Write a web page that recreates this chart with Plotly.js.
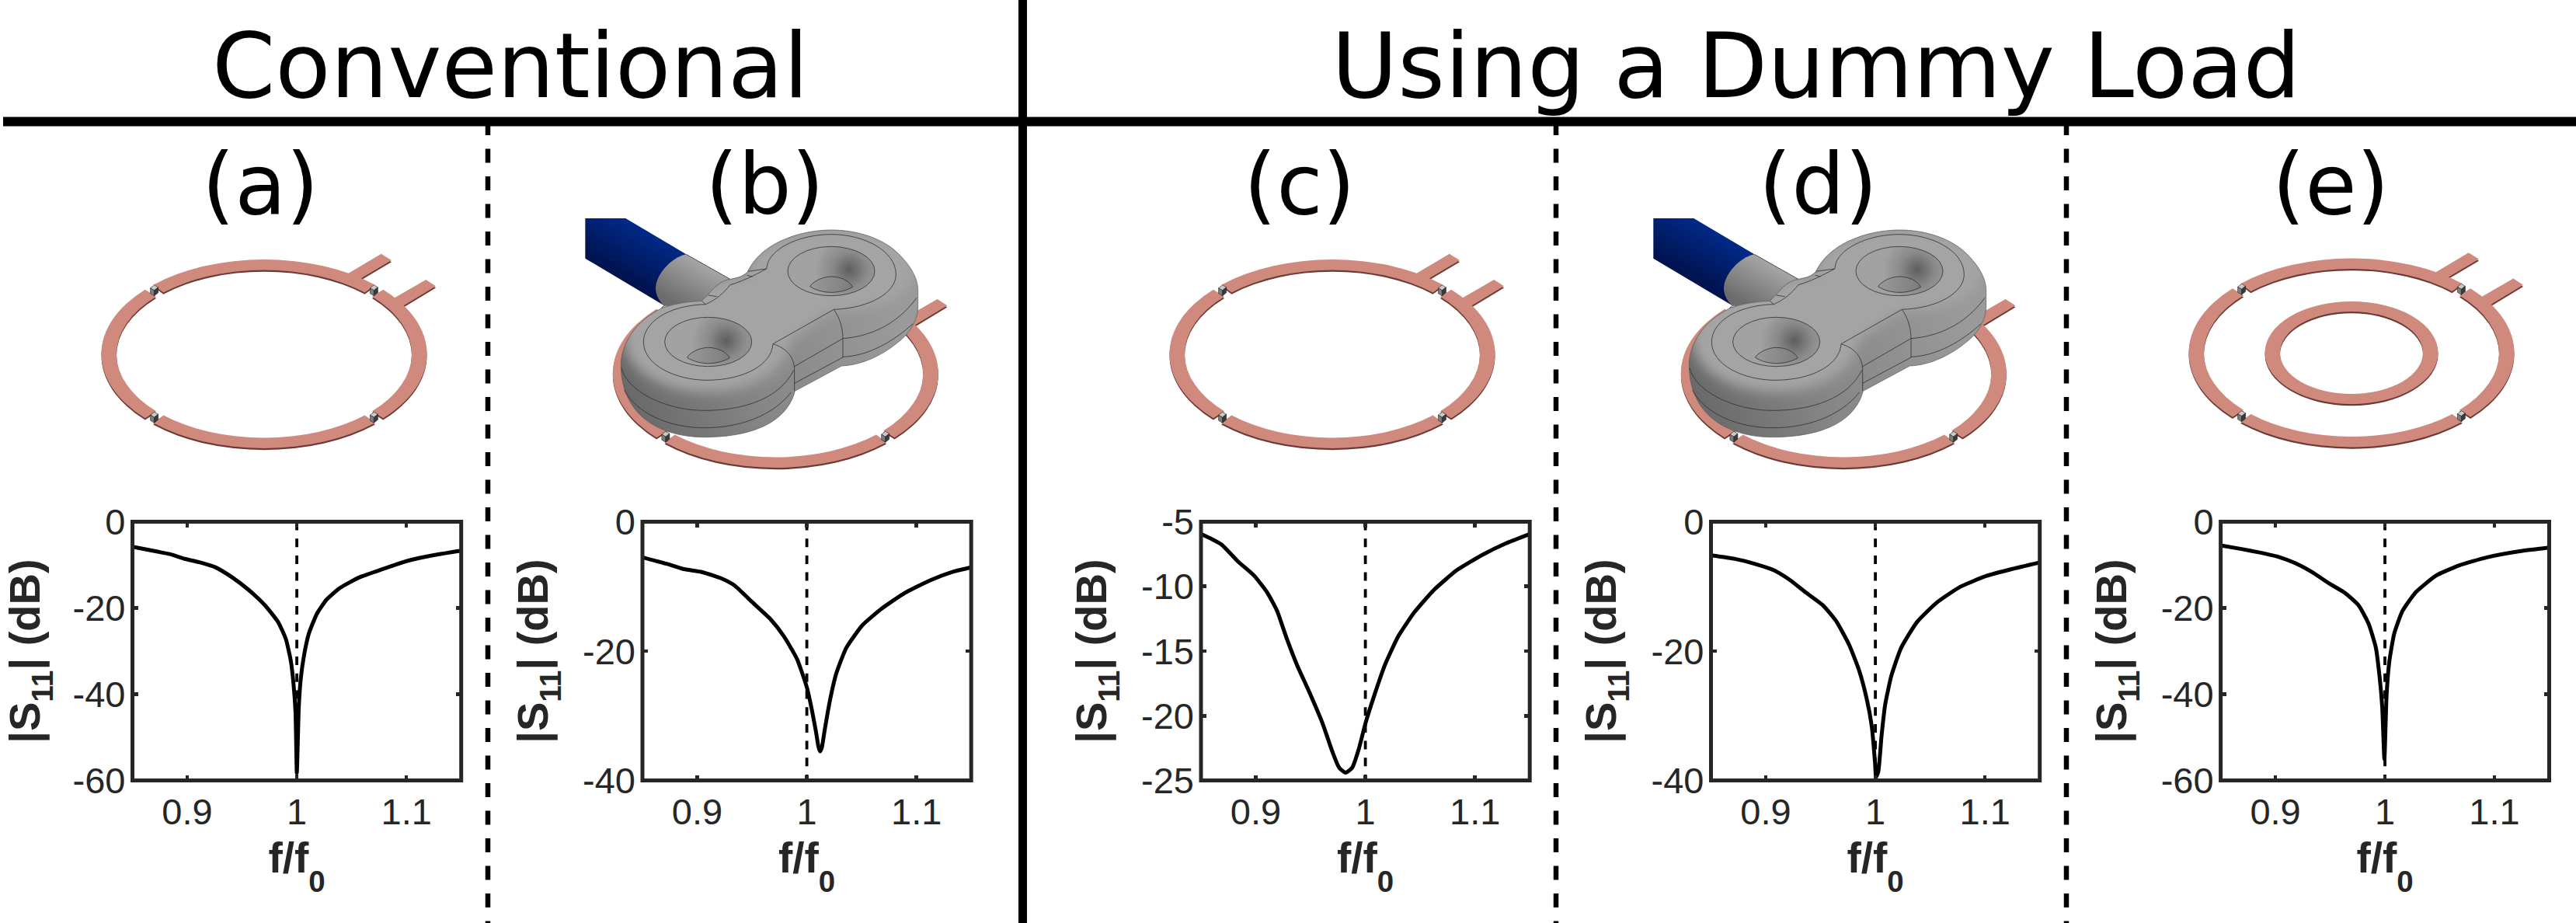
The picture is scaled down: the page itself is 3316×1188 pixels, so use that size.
<!DOCTYPE html>
<html><head><meta charset="utf-8">
<script src="https://cdn.plot.ly/plotly-3.0.1.min.js"></script>
<style>html,body{margin:0;padding:0;background:#fff}</style></head>
<body><div id="chart"></div>
<script>
const W = 3316, H = 1188;

// ---- Data ----
const sections = ["Conventional", "Using a Dummy Load"];
const panelLabels = ["(a)", "(b)", "(c)", "(d)", "(e)"];
const xTickVals = [0.9, 1, 1.1];
const xTickText = ["0.9", "1", "1.1"];

const yTicksA = [0, -20, -40, -60];
const yTicksB = [0, -20, -40];
const yTicksC = [-5, -10, -15, -20, -25];
const yTicksD = [0, -20, -40];
const yTicksE = [0, -20, -40, -60];

const fA = [0.85,0.872,0.884,0.8977,0.911,0.926,0.941,0.956,0.971,0.983,0.99,0.9946,0.997,0.9988,1.0,1.0018,1.0036,1.0065,1.011,1.0184,1.027,1.039,1.057,1.078,1.102,1.126,1.15];
const sA = [-5.8,-6.9,-7.5,-8.6,-9.4,-10.6,-12.9,-15.8,-19.4,-23.3,-27.2,-32.4,-37.7,-44.2,-58.2,-42.9,-36.4,-31.1,-25.9,-21.3,-18.1,-15.4,-12.9,-11.0,-9.0,-7.7,-6.7];

const fB = [0.85,0.872,0.887,0.9046,0.9225,0.9344,0.9493,0.967,0.979,0.991,1.0,1.0045,1.0084,1.0105,1.012,1.0137,1.0164,1.021,1.027,1.036,1.0507,1.0686,1.0895,1.1133,1.134,1.15];
const sB = [-5.5,-6.5,-7.3,-7.8,-8.8,-9.9,-12.3,-15.1,-17.7,-21.2,-25.6,-29.0,-32.5,-34.7,-35.5,-34.9,-32.1,-27.7,-23.4,-19.5,-16,-13.4,-11,-9,-7.7,-7.05];

const fC = [0.85,0.86,0.869,0.884,0.8986,0.9105,0.9195,0.928,0.9374,0.949,0.961,0.97,0.976,0.982,0.988,0.994,1.0,1.009,1.018,1.03,1.0447,1.0626,1.0835,1.107,1.128,1.15];
const sC = [-5.95,-6.35,-6.78,-8.09,-9.18,-10.48,-11.9,-13.97,-16.03,-18.2,-20.6,-22.8,-24,-24.4,-24,-22.56,-20.6,-18.2,-16.03,-13.86,-12,-10.27,-8.74,-7.55,-6.68,-5.95];

const fD = [0.85,0.872,0.8896,0.9074,0.922,0.937,0.952,0.964,0.976,0.985,0.992,0.9967,0.9997,1.0006,1.0027,1.0057,1.009,1.0146,1.0235,1.038,1.056,1.077,1.101,1.125,1.15];
const sD = [-5.2,-5.75,-6.5,-7.5,-9.0,-11,-12.9,-15.3,-19,-22.9,-27.3,-31.6,-37.3,-39.5,-38.6,-33,-28.2,-23.8,-19.5,-15.5,-12.5,-10.1,-8.4,-7.3,-6.3];

const fE = [0.85,0.869,0.8846,0.903,0.918,0.9335,0.949,0.964,0.976,0.985,0.9917,0.9953,0.9975,0.9995,1.0015,1.004,1.0085,1.016,1.028,1.0466,1.068,1.0925,1.123,1.15];
const sE = [-5.5,-6.33,-7.1,-8.16,-9.6,-11.7,-14.3,-16.6,-19.4,-23.6,-29.2,-36.4,-42.9,-55,-40.3,-32.4,-25.9,-20.7,-16.4,-12.5,-10.1,-8.3,-6.85,-6];

const INK = "#262626";
const px = v => v / W;
const py = v => 1 - v / H;

// ---- Illustration (coil and probe line art) as an inline vector image ----
const COPPER = "#D08A7D", COPPER_DK = "#6B3A34";
function seg(cx, cy, a, b, ai, bi, t1, t2) {
  const p = (A, B, t) => [(cx + A * Math.cos(t * Math.PI / 180)).toFixed(2), (cy + B * Math.sin(t * Math.PI / 180)).toFixed(2)];
  const o1 = p(a, b, t1), o2 = p(a, b, t2), i1 = p(ai, bi, t2), i2 = p(ai, bi, t1);
  const large = Math.abs(t2 - t1) > 180 ? 1 : 0;
  return `M${o1} A${a} ${b} 0 ${large} 1 ${o2} L${i1} A${ai} ${bi} 0 ${large} 0 ${i2} Z`;
}
function coilPaths(cx, cy) {
  const a = 209.5, b = 121.5, ai = 190, bi = 108;
  let d = "";
  [[47, 133], [137, 223], [227, 313], [317, 403]].forEach(s => { d += seg(cx, cy, a, b, ai, bi, s[0], s[1]) + " "; });
  const tab = pts => "M" + pts.map(q => (cx + q[0]).toFixed(1) + "," + (cy + q[1]).toFixed(1)).join(" L") + " Z ";
  d += tab([[104, -101], [150.7, -128.8], [164, -120.5], [121, -95]]);
  d += tab([[164, -70], [208.3, -95.5], [221, -87.2], [176, -60]]);
  return d;
}
function cube(x, y) {
  const s = (dx, dy) => (x + dx).toFixed(1) + "," + (y + dy).toFixed(1);
  return `<polygon points="${s(-5,-3)} ${s(0,-7)} ${s(5,-4)} ${s(0,0)}" fill="#c9c9c9" stroke="#222" stroke-width=".6"/>` +
         `<polygon points="${s(-5,-3)} ${s(0,0)} ${s(0,7)} ${s(-5,4)}" fill="#7d7d7d" stroke="#222" stroke-width=".6"/>` +
         `<polygon points="${s(0,0)} ${s(5,-4)} ${s(5,3)} ${s(0,7)}" fill="#3a3a3a" stroke="#222" stroke-width=".6"/>`;
}
function coil(cx, cy) {
  const d = coilPaths(cx, cy);
  let out = `<path d="${d}" fill="${COPPER_DK}" transform="translate(0,2.2)"/><path d="${d}" fill="${COPPER}"/>`;
  [[141.4, -81.7], [-141.4, -81.7], [141.4, 81.7], [-141.4, 81.7]].forEach(q => { out += cube(cx + q[0], cy + q[1]); });
  return out;
}
function innerRing(cx, cy) {
  const d = seg(cx, cy, 111.5, 66, 92, 53, 0, 180) + " " + seg(cx, cy, 111.5, 66, 92, 53, 180, 360);
  return `<path d="${d}" fill="${COPPER_DK}" transform="translate(0,2.2)"/><path d="${d}" fill="${COPPER}"/>`;
}
function bodyPath() {
  return "M340,378 C400,358 450,354 490,352 L515,327 C545,290 570,272 600,268 C630,262 650,258 668,238 C690,190 740,140 820,110 C880,85 950,78 990,78 C1090,78 1190,110 1250,170 C1300,220 1328,270 1325,320 L1325,380 C1322,430 1290,480 1250,510 C1190,560 1110,600 1030,603 L850,700 C835,760 790,810 720,840 C650,870 570,878 500,878 C400,878 310,850 250,790 C200,740 178,670 178,600 C178,520 230,430 340,378 Z";
}
const DEFS = `
<linearGradient id="blue" gradientUnits="userSpaceOnUse" x1="290" y1="90" x2="190" y2="265"><stop offset="0" stop-color="#002a88"/><stop offset="1" stop-color="#00124f"/></linearGradient>
<linearGradient id="cone" gradientUnits="userSpaceOnUse" x1="460" y1="190" x2="370" y2="350"><stop offset="0" stop-color="#a6a6a6"/><stop offset="1" stop-color="#6c6c6c"/></linearGradient>
<linearGradient id="side" gradientUnits="userSpaceOnUse" x1="200" y1="780" x2="1250" y2="420"><stop offset="0" stop-color="#686868"/><stop offset=".45" stop-color="#868686"/><stop offset="1" stop-color="#9a9a9a"/></linearGradient>
<radialGradient id="f1" gradientUnits="userSpaceOnUse" cx="585" cy="505" r="135"><stop offset="0" stop-color="#5e5e5e"/><stop offset=".5" stop-color="#8a8a8a"/><stop offset="1" stop-color="#a2a2a2"/></radialGradient>
<radialGradient id="f2" gradientUnits="userSpaceOnUse" cx="1060" cy="232" r="135"><stop offset="0" stop-color="#5e5e5e"/><stop offset=".5" stop-color="#8a8a8a"/><stop offset="1" stop-color="#a2a2a2"/></radialGradient>
<linearGradient id="hole" gradientUnits="userSpaceOnUse" x1="430" y1="560" x2="600" y2="570"><stop offset="0" stop-color="#9a9a9a"/><stop offset="1" stop-color="#7c7c7c"/></linearGradient>
<filter id="soft" x="-20%" y="-20%" width="140%" height="140%"><feGaussianBlur stdDeviation="22"/></filter>
<clipPath id="bodyClip"><path d="${bodyPath()}"/></clipPath>`;
function probe(dx) {
  const hole = "M433,570 C450,545 490,532 515,532 C550,532 585,548 598,572 C570,588 540,593 515,593 C485,593 455,585 433,570 Z";
  const line = `fill="none" stroke="#2e2e2e" stroke-width="2.4"`;
  return `<g transform="translate(${740 + dx},270) scale(.33333)">
  <polygon points="40,33 196,33 430,172 345,370 40,188" fill="url(#blue)"/>
  <path d="M430,172 C370,185 315,250 312,300 C312,325 320,345 345,372 L490,352 L600,268 Z" fill="url(#cone)"/>
  <path d="M430,172 L600,268" ${line}/>
  <path d="${bodyPath()}" fill="url(#side)"/>
  <g clip-path="url(#bodyClip)"><g filter="url(#soft)" fill="#a4a4a4">
    <ellipse cx="510" cy="500" rx="320" ry="205"/><ellipse cx="990" cy="235" rx="322" ry="158"/>
    <polygon points="560,260 1000,240 1000,385 700,600 400,400"/></g></g>
  <ellipse cx="515" cy="510" rx="168" ry="95" fill="url(#f1)"/>
  <ellipse cx="990" cy="237" rx="168" ry="95" fill="url(#f2)"/>
  <path d="${hole}" fill="url(#hole)"/>
  <path d="${hole}" transform="translate(475,-274)" fill="url(#hole)"/>
  <path d="${bodyPath()}" fill="none" stroke="#555" stroke-width="2"/>
  <ellipse cx="515" cy="510" rx="168" ry="95" ${line}/>
  <ellipse cx="990" cy="237" rx="168" ry="95" ${line}/>
  <path d="${hole}" ${line}/><path d="${hole}" transform="translate(475,-274)" ${line}/>
  <path d="M745,205 C770,140 880,95 990,95 C1120,95 1240,160 1240,250 C1240,320 1140,380 1000,385" ${line}/>
  <path d="M490,352 L505,365 C550,345 575,320 600,290 C650,275 690,255 740,228 L745,205" ${line}/>
  <path d="M505,365 C350,370 265,440 265,510 C265,600 390,658 510,658 C650,658 760,600 765,518" ${line}/>
  <path d="M1000,385 L765,518 M1000,385 C1025,420 1035,460 1035,500 L1035,570 M765,518 C820,535 848,570 848,620 L848,700" ${line}/>
  <path d="M1035,497 L848,605 M1035,570 L848,670 M515,330 L548,335 M665,253 L685,258 M668,238 L740,228" ${line}/>
  <path d="M1035,497 C1130,490 1240,450 1320,340 M1035,568 C1130,565 1230,510 1305,440" ${line}/>
  <path d="M180,610 C200,700 350,775 500,775 C650,775 790,730 845,620 M190,695 C240,790 370,842 500,842 C630,842 760,800 835,705" ${line}/>
  </g>`;
}
const PROBE_SHIFT = 1375;
const artSvg = `<svg xmlns="http://www.w3.org/2000/svg" width="${W}" height="${H}" viewBox="0 0 ${W} ${H}"><defs>${DEFS}</defs>
${coil(340, 455.5)}
${coil(998.3, 480.5)}${probe(0)}
${coil(1715, 455.5)}
${coil(998.3 + PROBE_SHIFT, 480.5)}${probe(PROBE_SHIFT)}
${coil(3027, 454)}${innerRing(3027, 454)}
</svg>`;

// ---- Panels ----
const panels = [
  {f: fA, s: sA, ticks: yTicksA, left: 170.5, right: 593.7, cx: 335},
  {f: fB, s: sB, ticks: yTicksB, left: 827,   right: 1250.2, cx: 984},
  {f: fC, s: sC, ticks: yTicksC, left: 1546,  right: 1969.2, cx: 1673},
  {f: fD, s: sD, ticks: yTicksD, left: 2202.5,right: 2625.7, cx: 2340},
  {f: fE, s: sE, ticks: yTicksE, left: 2858.6,right: 3281.5, cx: 3000},
];
const TOP = 671.5, BOTTOM = 1004.6;
const SANS = "Liberation Sans, Arial, sans-serif";

const traces = [], layout = {
  width: W, height: H, margin: {l: 0, r: 0, t: 0, b: 0, pad: 0},
  paper_bgcolor: "#fff", plot_bgcolor: "rgba(0,0,0,0)", showlegend: false,
  font: {family: SANS, color: INK},
  shapes: [], annotations: [],
  images: [{source: "data:image/svg+xml;charset=utf-8," + encodeURIComponent(artSvg),
    xref: "paper", yref: "paper", x: 0, y: 1, sizex: 1, sizey: 1,
    xanchor: "left", yanchor: "top", sizing: "stretch", layer: "below"}],
};

panels.forEach((p, i) => {
  const k = i === 0 ? "" : String(i + 1);
  const ymin = Math.min(...p.ticks), ymax = Math.max(...p.ticks);
  traces.push({x: [1, 1], y: [ymax, ymin], xaxis: "x" + k, yaxis: "y" + k, mode: "lines",
    line: {color: "#000", width: 3.8, dash: "11px,10.7px"}, hoverinfo: "skip"});
  traces.push({x: p.f, y: p.s, xaxis: "x" + k, yaxis: "y" + k, mode: "lines",
    line: {color: "#000", width: 5, shape: "spline", smoothing: 0.5}, hoverinfo: "skip"});
  layout["xaxis" + k] = {
    domain: [px(p.left), px(p.right)], range: [0.85, 1.15], anchor: "y" + k,
    tickvals: xTickVals, ticktext: xTickText, ticks: "inside", ticklen: 7, tickwidth: 4.6, tickcolor: INK,
    mirror: "allticks", showline: false, showgrid: false, zeroline: false,
    tickfont: {family: SANS, size: 47, color: INK}, ticklabelstandoff: 8,
    title: {text: "f/f<sub>0</sub>", font: {family: SANS, size: 55, color: INK, weight: "bold"}, standoff: 14},
  };
  layout["yaxis" + k] = {
    domain: [py(BOTTOM), py(TOP)], range: [ymin, ymax], anchor: "x" + k,
    tickvals: p.ticks, ticktext: p.ticks.map(String), ticks: "inside", ticklen: 7, tickwidth: 4.6, tickcolor: INK,
    mirror: "allticks", showline: false, showgrid: false, zeroline: false,
    tickfont: {family: SANS, size: 47, color: INK}, ticklabelstandoff: 8,
    title: {text: "|S<sub>11</sub>| (dB)", font: {family: SANS, size: 56, color: INK, weight: "bold"}, standoff: 26},
  };
  layout.shapes.push({type: "rect", xref: "x" + k + " domain", yref: "y" + k + " domain", x0: 0, x1: 1, y0: 0, y1: 1,
    line: {color: INK, width: 5}, fillcolor: "rgba(0,0,0,0)"});
  layout.annotations.push({text: panelLabels[i], xref: "paper", yref: "paper", x: px(p.cx), y: py(237), showarrow: false,
    xanchor: "center", yanchor: "middle", font: {family: "DejaVu Sans", size: 108, color: "#000"}});
});

// section headers
[656.6, 2338].forEach((cx, i) => {
  layout.annotations.push({text: sections[i], xref: "paper", yref: "paper", x: px(cx), y: py(84), showarrow: false,
    xanchor: "center", yanchor: "middle", font: {family: "DejaVu Sans", size: 116.5, color: "#000"}});
});
// divider rules
layout.shapes.push({type: "line", xref: "paper", yref: "paper", x0: px(4), x1: 1, y0: py(156.5), y1: py(156.5), line: {color: "#000", width: 12}});
layout.shapes.push({type: "line", xref: "paper", yref: "paper", x0: px(1316.5), x1: px(1316.5), y0: 1, y1: 0, line: {color: "#000", width: 11}});
[628, 2003, 2660].forEach(x => layout.shapes.push({type: "line", xref: "paper", yref: "paper", x0: px(x), x1: px(x), y0: py(156), y1: 0,
  line: {color: "#000", width: 6.5, dash: "18px,17.5px"}}));

// Subscript placement: same title text, with the reference's drop and size.
function placeSubscripts(selector, dropPx, sizePx) {
  document.querySelectorAll(selector).forEach(el => {
    const parts = el.textContent.split("\u200b").filter(Boolean);
    if (parts.length < 2) return;
    el.textContent = "";
    const NS = "http://www.w3.org/2000/svg";
    parts.forEach((part, n) => {
      const t = document.createElementNS(NS, "tspan");
      t.textContent = part;
      if (n % 2 === 1) { t.setAttribute("dy", dropPx); t.style.fontSize = sizePx + "px"; }
      else if (n > 0) { t.setAttribute("dy", -dropPx); }
      el.appendChild(t);
    });
  });
}
Plotly.newPlot("chart", traces, layout, {displayModeBar: false, staticPlot: true}).then(() => {
  placeSubscripts("text.xtitle, text.x2title, text.x3title, text.x4title, text.x5title", 25, 38.5);
  placeSubscripts("text.ytitle, text.y2title, text.y3title, text.y4title, text.y5title", 17, 39);
});
</script></body></html>
